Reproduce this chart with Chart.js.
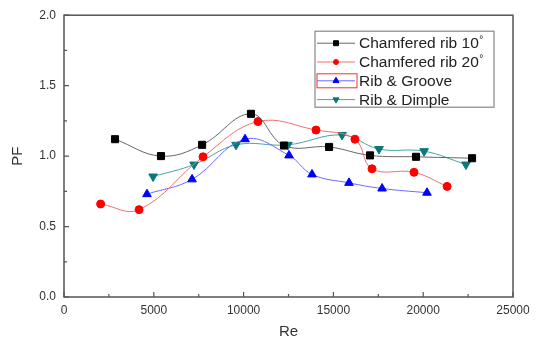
<!DOCTYPE html>
<html>
<head>
<meta charset="utf-8">
<script src="https://cdn.jsdelivr.net/npm/chart.js@4.4.0/dist/chart.umd.min.js"></script>
<style>
  html, body { margin: 0; padding: 0; background: #fff; }
  #wrap { width: 541px; height: 342px; }
</style>
</head>
<body>
<div id="wrap"><canvas id="pf-chart"></canvas></div>
<script>
// values
const rib10Re = [2840, 5400, 7690, 10410, 12250, 14760, 17040, 19600, 22720];
const rib10PF = [1.12, 1.00, 1.08, 1.30, 1.075, 1.065, 1.005, 0.995, 0.985];

const rib20Re = [2040, 4180, 7740, 10800, 14030, 16200, 17150, 19490, 21330];
const rib20PF = [0.66, 0.62, 0.995, 1.245, 1.185, 1.12, 0.91, 0.885, 0.785];

const grooveRe = [4620, 7130, 10080, 12530, 13810, 15870, 17710, 20210];
const groovePF = [0.73, 0.835, 1.12, 1.005, 0.87, 0.81, 0.77, 0.74];

const dimpleRe = [4960, 7240, 9580, 12470, 15480, 17540, 20050, 22380];
const dimplePF = [0.855, 0.94, 1.08, 1.08, 1.15, 1.05, 1.035, 0.94];

const seriesLabels = [
  "Chamfered rib 10\u00b0",
  "Chamfered rib 20\u00b0",
  "Rib & Groove",
  "Rib & Dimple",
];

const reTicks = [0, 5000, 10000, 15000, 20000, 25000];
const pfTicks = [0.0, 0.5, 1.0, 1.5, 2.0];

function toPoints(xs, ys) {
  return xs.map((x, i) => ({ x: x, y: ys[i] }));
}

function makeDataset(label, xs, ys, lineColor, markColor, style, radius, rotation) {
  return {
    label: label,
    data: toPoints(xs, ys),
    borderColor: lineColor,
    borderWidth: 1,
    backgroundColor: markColor,
    pointBackgroundColor: markColor,
    pointBorderColor: markColor,
    pointBorderWidth: 1,
    pointStyle: style,
    pointRadius: radius,
    pointRotation: rotation || 0,
    tension: 0.4,
    fill: false,
  };
}

// frame round the plot and inward tick marks, like the original
const frameTicks = {
  id: "frameTicks",
  afterDraw(chart) {
    const { ctx, chartArea: a, scales } = chart;
    ctx.save();
    ctx.strokeStyle = "#555";
    ctx.lineWidth = 1.5;
    ctx.strokeRect(a.left, a.top, a.right - a.left, a.bottom - a.top);

    ctx.lineWidth = 1.2;
    ctx.beginPath();
    for (let v = 0; v <= 25000; v += 2500) {
      const px = scales.x.getPixelForValue(v);
      const len = v % 5000 === 0 ? 5 : 3;
      ctx.moveTo(px, a.bottom);
      ctx.lineTo(px, a.bottom - len);
    }
    for (let v = 0; v <= 2.0001; v += 0.25) {
      const py = scales.y.getPixelForValue(v);
      const len = Math.abs(v * 2 - Math.round(v * 2)) < 0.01 ? 5 : 3;
      ctx.moveTo(a.left, py);
      ctx.lineTo(a.left + len, py);
    }
    ctx.stroke();
    ctx.restore();
  },
};

// boxed legend inside the plot, upper right
const boxLegend = {
  id: "boxLegend",
  afterDraw(chart) {
    const { ctx, chartArea: a } = chart;
    const right = a.right - 19;
    const left = right - 179;
    const top = a.top + 16;
    const rowH = 18.8;
    ctx.save();
    ctx.fillStyle = "#fff";
    ctx.fillRect(left, top, right - left, 76);
    ctx.strokeStyle = "#888";
    ctx.lineWidth = 1.2;
    ctx.strokeRect(left, top, right - left, 76);

    chart.data.datasets.forEach((ds, i) => {
      const y = top + 12 + i * rowH;
      const x0 = left + 2;
      const x1 = left + 40;
      if (i === 2) {
        ctx.strokeStyle = "#e33";
        ctx.lineWidth = 1;
        ctx.strokeRect(x0, y - 7, 40, 14);
      }
      ctx.strokeStyle = ds.borderColor;
      ctx.lineWidth = 1;
      ctx.beginPath();
      ctx.moveTo(x0, y);
      ctx.lineTo(x1, y);
      ctx.stroke();
      ctx.fillStyle = ds.pointBackgroundColor;
      ctx.strokeStyle = ds.pointBorderColor;
      Chart.helpers.drawPoint(ctx, {
        pointStyle: ds.pointStyle,
        rotation: ds.pointRotation,
        radius: ds.pointRadius - 1.5,
        borderWidth: 1,
      }, (x0 + x1) / 2, y);

      // degree sign drawn small and raised, as in the original
      let text = ds.label;
      const hasDeg = text.endsWith("\u00b0");
      if (hasDeg) text = text.slice(0, -1);
      ctx.fillStyle = "#222";
      ctx.font = "15.5px 'Liberation Sans', Arial, sans-serif";
      ctx.textBaseline = "middle";
      ctx.textAlign = "left";
      ctx.fillText(text, x1 + 4, y + 1);
      if (hasDeg) {
        const w = ctx.measureText(text).width;
        ctx.font = "10px 'Liberation Sans', Arial, sans-serif";
        ctx.fillText("\u00b0", x1 + 4 + w + 0.5, y - 3);
      }
    });
    ctx.restore();
  },
};

const tickFont = { family: "'Liberation Sans', Arial, sans-serif", size: 12 };
const titleFont = { family: "'Liberation Sans', Arial, sans-serif", size: 15 };

const ctx = document.getElementById("pf-chart").getContext("2d");
new Chart(ctx, {
  type: "line",
  data: {
    datasets: [
      makeDataset(seriesLabels[0], rib10Re, rib10PF, "#666", "#000", "rect", 5),
      makeDataset(seriesLabels[1], rib20Re, rib20PF, "#f07070", "#ff0000", "circle", 4),
      makeDataset(seriesLabels[2], grooveRe, groovePF, "#6a6aff", "#0000ff", "triangle", 5),
      makeDataset(seriesLabels[3], dimpleRe, dimplePF, "#4aa3a3", "#0a7878", "triangle", 5, 180),
    ],
  },
  options: {
    animation: false,
    responsive: true,
    maintainAspectRatio: false,
    layout: { padding: { left: 0, top: 10, right: 28, bottom: 0 } },
    plugins: {
      legend: { display: false },
      tooltip: { enabled: false },
    },
    scales: {
      x: {
        type: "linear",
        min: reTicks[0],
        max: reTicks[reTicks.length - 1],
        afterBuildTicks: (scale) => {
          scale.ticks = reTicks.map((v) => ({ value: v }));
        },
        afterFit: (scale) => {
          scale.height = 45;
        },
        grid: { display: false, drawTicks: false },
        border: { display: false },
        ticks: {
          color: "#333",
          font: tickFont,
          padding: 6,
          maxRotation: 0,
          callback: (v) => String(v),
        },
        title: {
          display: true,
          text: "Re",
          color: "#333",
          font: titleFont,
          padding: { top: 1, bottom: 1 },
        },
      },
      y: {
        type: "linear",
        min: pfTicks[0],
        max: pfTicks[pfTicks.length - 1],
        afterBuildTicks: (scale) => {
          scale.ticks = pfTicks.map((v) => ({ value: v }));
        },
        afterFit: (scale) => {
          scale.width = 64;
        },
        grid: { display: false, drawTicks: false },
        border: { display: false },
        ticks: {
          color: "#333",
          font: tickFont,
          padding: 8,
          callback: (v) => v.toFixed(1),
        },
        title: {
          display: true,
          text: "PF",
          color: "#333",
          font: titleFont,
          padding: { top: 9, bottom: 0 },
        },
      },
    },
  },
  plugins: [frameTicks, boxLegend],
});
</script>
</body>
</html>
